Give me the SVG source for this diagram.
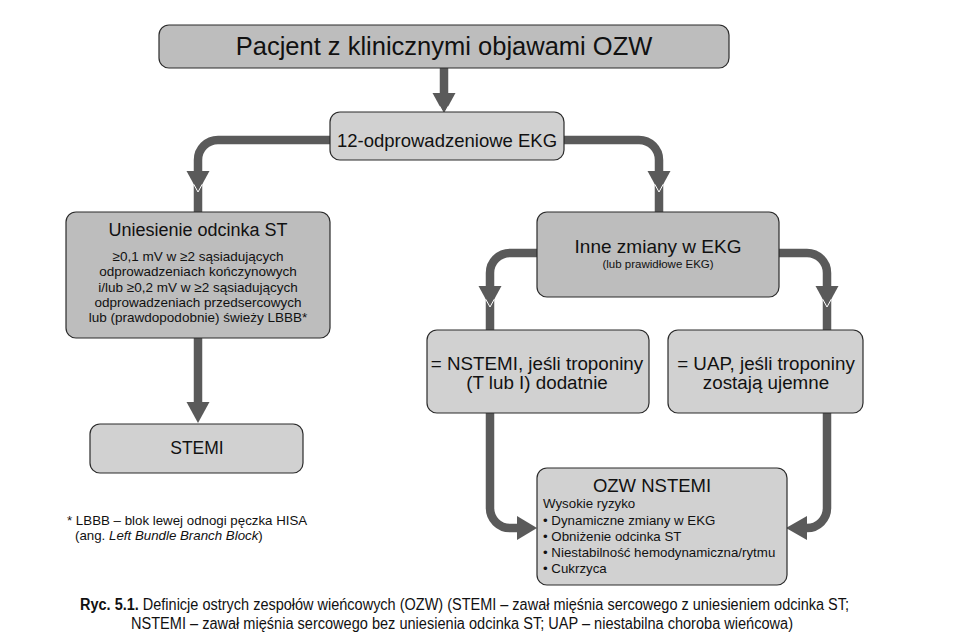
<svg xmlns="http://www.w3.org/2000/svg" xmlns:xlink="http://www.w3.org/1999/xlink" width="957" height="643" viewBox="0 0 957 643">
<style>
  .box { stroke: #2b2b2b; stroke-width: 1.2; }
  .dark { fill: #bdbdbd; }
  .light { fill: #d1d1d1; }
  .t { font-family: "Liberation Sans", Arial, sans-serif; fill: #111; }
  .c { text-anchor: middle; }
  .conn { fill: none; stroke: #5a5a5a; stroke-width: 8.5; }
  .head { fill: #5a5a5a; }
  .notch { fill: none; stroke: #ffffff; stroke-width: 1; }
  .cap { font-family: "Liberation Sans Narrow", "Liberation Sans", Arial, sans-serif; font-size: 16px; fill: #111; }
</style>
<defs>
  <path id="ahDown" d="M-11.5,0 L11.5,0 L0,21 Z"/>
  <path id="notch" d="M-4.3,-7.8 L0,0 L4.3,-7.8"/>
</defs>
<rect width="957" height="643" fill="#ffffff"/>

<g id="connectors">
  <path class="conn" d="M444,68 V100"/>
  <path class="conn" d="M330,140 H218 A20,20 0 0 0 198,160 V212"/>
  <path class="conn" d="M564,140 H639 A20,20 0 0 1 659,160 V212"/>
  <path class="conn" d="M198,338 V408"/>
  <path class="conn" d="M537,253 H510 A20,20 0 0 0 490,273 V330"/>
  <path class="conn" d="M779,253 H807 A20,20 0 0 1 827,273 V330"/>
  <path class="conn" d="M490,413 V508 A20,20 0 0 0 510,528 H522"/>
  <path class="conn" d="M827,413 V508 A20,20 0 0 1 807,528 H802"/>
  <use xlink:href="#ahDown" class="head" x="444" y="93"/>
  <use xlink:href="#ahDown" class="head" x="198" y="171"/>
  <use xlink:href="#ahDown" class="head" x="659" y="171"/>
  <use xlink:href="#ahDown" class="head" x="198" y="402"/>
  <use xlink:href="#ahDown" class="head" x="490" y="286"/>
  <use xlink:href="#ahDown" class="head" x="827" y="286"/>
  <path class="head" d="M517,516 L517,540 L537,528 Z"/>
  <path class="head" d="M807,516 L807,540 L786,528 Z"/>
  <use xlink:href="#notch" class="notch" x="444" y="114"/>
  <use xlink:href="#notch" class="notch" x="198" y="192"/>
  <use xlink:href="#notch" class="notch" x="659" y="192"/>
  <use xlink:href="#notch" class="notch" x="490" y="307"/>
  <use xlink:href="#notch" class="notch" x="827" y="307"/>
</g>

<g id="node-pacjent">
  <rect class="box dark" x="159" y="25" width="570" height="43" rx="10"/>
  <text class="t c" x="444" y="55" font-size="25.5">Pacjent z klinicznymi objawami OZW</text>
</g>

<g id="node-ekg">
  <rect class="box light" x="330" y="112" width="234" height="48" rx="10"/>
  <text class="t c" x="447" y="147" font-size="18.5">12-odprowadzeniowe EKG</text>
</g>

<g id="node-uniesienie">
  <rect class="box dark" x="66" y="212" width="264" height="126" rx="10"/>
  <text class="t c" x="198" y="236" font-size="18">Uniesienie odcinka ST</text>
  <text class="t c" x="198" y="261" font-size="13.5">≥0,1 mV w ≥2 sąsiadujących</text>
  <text class="t c" x="198" y="276" font-size="13.5">odprowadzeniach kończynowych</text>
  <text class="t c" x="198" y="292" font-size="13.5">i/lub ≥0,2 mV w ≥2 sąsiadujących</text>
  <text class="t c" x="198" y="307" font-size="13.5">odprowadzeniach przedsercowych</text>
  <text class="t c" x="198" y="322" font-size="13.5">lub (prawdopodobnie) świeży LBBB*</text>
</g>

<g id="node-stemi">
  <rect class="box light" x="90" y="424" width="213" height="49" rx="10"/>
  <text class="t c" x="197" y="454" font-size="17.5">STEMI</text>
</g>

<g id="node-inne">
  <rect class="box dark" x="537" y="212" width="242" height="85" rx="10"/>
  <text class="t c" x="658" y="253" font-size="19">Inne zmiany w EKG</text>
  <text class="t c" x="658" y="268" font-size="11.5">(lub prawidłowe EKG)</text>
</g>

<g id="node-nstemi">
  <rect class="box light" x="427" y="330" width="222" height="83" rx="10"/>
  <text class="t c" x="537" y="370" font-size="18.8">= NSTEMI, jeśli troponiny</text>
  <text class="t c" x="537" y="389" font-size="18.8">(T lub I) dodatnie</text>
</g>

<g id="node-uap">
  <rect class="box light" x="668" y="330" width="195" height="83" rx="10"/>
  <text class="t c" x="766" y="370" font-size="18.8">= UAP, jeśli troponiny</text>
  <text class="t c" x="766" y="389" font-size="18.8">zostają ujemne</text>
</g>

<g id="node-ozw-nstemi">
  <rect class="box light" x="537" y="468" width="250" height="117" rx="10"/>
  <text class="t c" x="652" y="492" font-size="18.5">OZW NSTEMI</text>
  <text class="t" x="543" y="508" font-size="13.3">Wysokie ryzyko</text>
  <text class="t" x="543" y="525" font-size="13.3">• Dynamiczne zmiany w EKG</text>
  <text class="t" x="543" y="541" font-size="13.3">• Obniżenie odcinka ST</text>
  <text class="t" x="543" y="557" font-size="13.3">• Niestabilność hemodynamiczna/rytmu</text>
  <text class="t" x="543" y="573" font-size="13.3">• Cukrzyca</text>
</g>

<g id="footnote">
  <text class="t" x="67" y="525" font-size="13.3">* LBBB – blok lewej odnogi pęczka HISA</text>
  <text class="t" x="75" y="540" font-size="13.3">(ang. <tspan font-style="italic">Left Bundle Branch Block</tspan>)</text>
</g>

<g id="caption">
  <text class="cap" x="80" y="610" textLength="769" lengthAdjust="spacingAndGlyphs"><tspan font-weight="bold">Ryc. 5.1.</tspan> Definicje ostrych zespołów wieńcowych (OZW) (STEMI – zawał mięśnia sercowego z uniesieniem odcinka ST;</text>
  <text class="cap" x="131" y="629" textLength="662" lengthAdjust="spacingAndGlyphs">NSTEMI – zawał mięśnia sercowego bez uniesienia odcinka ST; UAP – niestabilna choroba wieńcowa)</text>
</g>
</svg>
